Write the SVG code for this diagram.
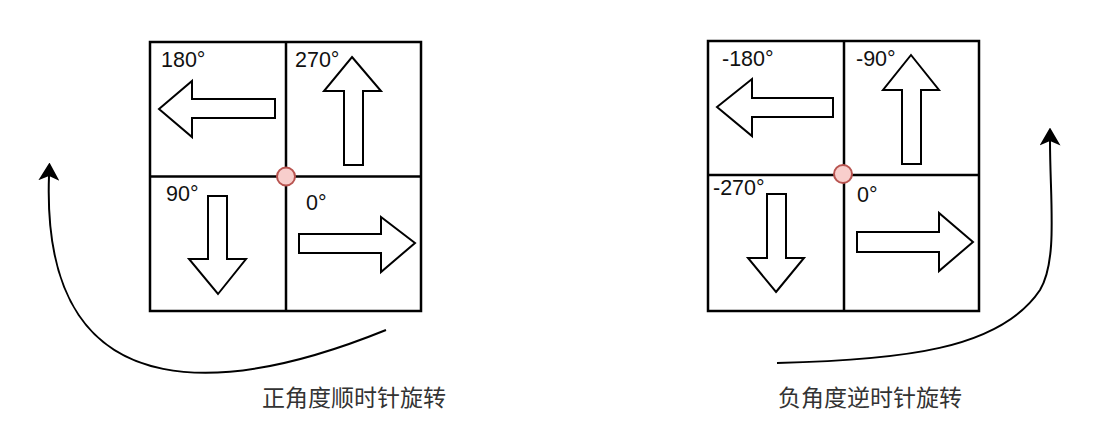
<svg xmlns="http://www.w3.org/2000/svg" width="1109" height="428" viewBox="0 0 1109 428">
<style>
.grid{fill:none;stroke:#000;stroke-width:2.5}
.arr{fill:#fff;stroke:#000;stroke-width:2;stroke-linejoin:miter}
.pt{fill:#f8cecc;stroke:#b85450;stroke-width:2}
.lbl{font-family:"Liberation Sans",Arial,sans-serif;font-size:21.5px;fill:#111}
.cap{font-family:"Noto Sans CJK SC","Noto Sans CJK JP",sans-serif;font-size:23px;fill:#333;text-anchor:middle}
.conn{fill:none;stroke:#000;stroke-width:2}
</style>
<defs>
<marker id="head" viewBox="0 0 18 21" markerWidth="18" markerHeight="21" refX="4.5" refY="10.5" orient="auto" markerUnits="userSpaceOnUse">
<path d="M0,0 L18,10.5 L0,21 L4.5,10.5 Z" fill="#000"/>
</marker>
</defs>
<g id="left-grid">
<rect class="grid" x="150" y="42" width="271" height="269"/>
<line class="grid" x1="286" y1="42" x2="286" y2="311"/>
<line class="grid" x1="150" y1="176.5" x2="421" y2="176.5"/>
</g>
<g id="left-180">
<polygon class="arr" points="159,109 192,81 192,99 275,99 275,118 192,118 192,137"/>
<text class="lbl" x="161" y="67">180°</text>
</g>
<g id="left-270">
<polygon class="arr" points="352,57 381,91 363,91 363,165 344,165 344,91 324,91"/>
<text class="lbl" x="295" y="67">270°</text>
</g>
<g id="left-90">
<polygon class="arr" points="218,294 246,259 227,259 227,196 208,196 208,259 189,259"/>
<text class="lbl" x="166" y="201">90°</text>
</g>
<g id="left-0">
<polygon class="arr" points="415,243 381,217 381,234 299,234 299,253 381,253 381,272"/>
<text class="lbl" x="306" y="210">0°</text>
</g>
<g id="left-origin"><circle class="pt" cx="286" cy="176.5" r="9"/></g>
<g id="right-grid">
<rect class="grid" x="708" y="41" width="271" height="270"/>
<line class="grid" x1="844" y1="41" x2="844" y2="311"/>
<line class="grid" x1="708" y1="175" x2="979" y2="175"/>
</g>
<g id="right-m180">
<polygon class="arr" points="717,107 752,79 752,98 833,98 833,117 752,117 752,136"/>
<text class="lbl" x="722" y="66">-180°</text>
</g>
<g id="right-m90">
<polygon class="arr" points="911,55 939,90 921,90 921,164 902,164 902,90 883,90"/>
<text class="lbl" x="856" y="66">-90°</text>
</g>
<g id="right-m270">
<polygon class="arr" points="776,292 804,258 786,258 786,194 767,194 767,258 748,258"/>
<text class="lbl" x="713" y="195">-270°</text>
</g>
<g id="right-0">
<polygon class="arr" points="973,242 939,213 939,232 857,232 857,252 939,252 939,271"/>
<text class="lbl" x="857" y="202">0°</text>
</g>
<g id="right-origin"><circle class="pt" cx="843" cy="174" r="9"/></g>
<g id="connectors">
<path class="conn" d="M386,330 C250,385 40,430 49,176" marker-end="url(#head)"/>
<path class="conn" d="M777,363 C900,360 1000,350 1040,290 C1058,260 1050,200 1050,141" marker-end="url(#head)"/>
</g>
<g id="captions">
<text class="cap" x="354" y="406">正角度顺时针旋转</text>
<text class="cap" x="870" y="406">负角度逆时针旋转</text>
</g>
</svg>
